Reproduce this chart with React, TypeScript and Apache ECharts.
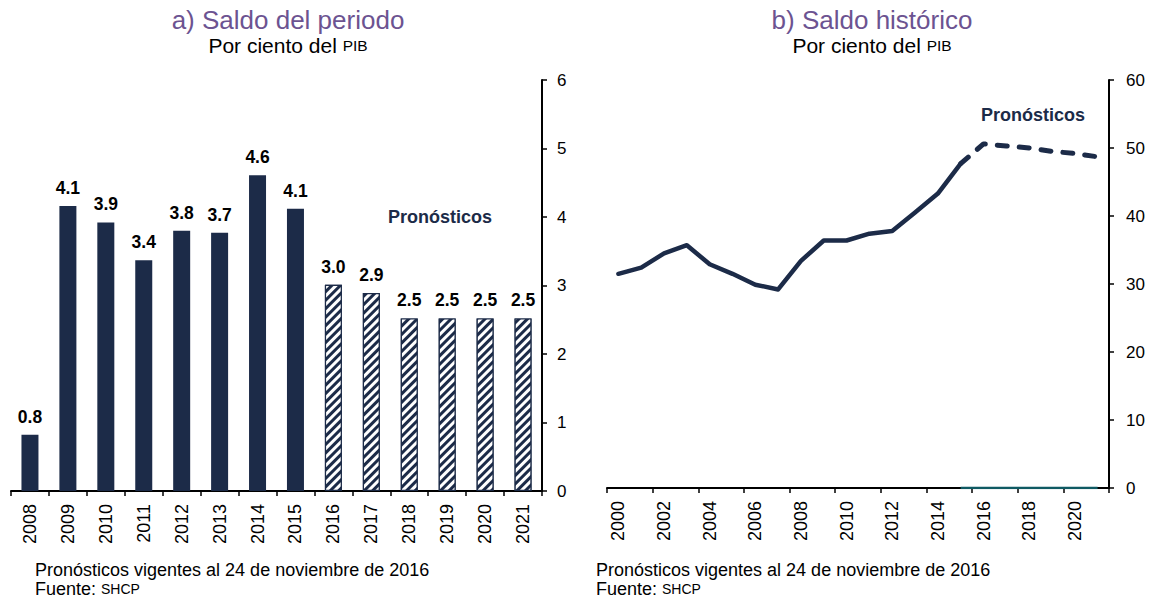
import React, { useEffect, useRef } from 'react';
import * as echarts from 'echarts';

// ---------- Data ----------
const periodYears = ['2008', '2009', '2010', '2011', '2012', '2013', '2014', '2015', '2016', '2017', '2018', '2019', '2020', '2021'];
const periodValues = [0.82, 4.16, 3.92, 3.37, 3.8, 3.77, 4.61, 4.12, 3.01, 2.89, 2.52, 2.52, 2.52, 2.52];
const periodLabels = ['0.8', '4.1', '3.9', '3.4', '3.8', '3.7', '4.6', '4.1', '3.0', '2.9', '2.5', '2.5', '2.5', '2.5'];
const periodForecastFrom = '2016';

const histYears = ['2000', '2001', '2002', '2003', '2004', '2005', '2006', '2007', '2008', '2009', '2010', '2011', '2012', '2013', '2014', '2015', '2016', '2017', '2018', '2019', '2020', '2021'];
const histObserved = [31.5, 32.4, 34.5, 35.7, 32.9, 31.5, 29.9, 29.2, 33.4, 36.4, 36.4, 37.4, 37.8, 40.5, 43.3, 47.7];
const histForecastYears = ['2015', '2016', '2017', '2018', '2019', '2020', '2021'];
const histForecast = [47.7, 50.6, 50.3, 50.0, 49.5, 49.2, 48.7];
const histBaseYears = ['2015', '2016', '2017', '2018', '2019', '2020', '2021'];
const histBase = [0, 0, 0, 0, 0, 0, 0];

const leftTicks = { min: 0, max: 6, interval: 1 };
const rightTicks = { min: 0, max: 60, interval: 10 };

// ---------- Styles ----------
const NAVY = '#1c2b48';
const PURPLE = '#6c5391';
const TEAL = '#0f5a63';
const FONT = "'Liberation Sans', Arial, sans-serif";

function alignTo(years: string[], keys: string[], vals: number[]) {
  return years.map((y) => {
    const i = keys.indexOf(y);
    return i >= 0 ? vals[i] : null;
  });
}

function titleBlock(cx: number, title: string) {
  return [
    {
      type: 'text',
      x: cx,
      y: 20,
      style: { text: title, fill: PURPLE, font: `26px ${FONT}`, textAlign: 'center', textVerticalAlign: 'middle' },
    },
    {
      type: 'text',
      x: cx,
      y: 45,
      style: {
        text: 'Por ciento del {s|PIB}',
        fill: '#000',
        font: `21px ${FONT}`,
        textAlign: 'center',
        textVerticalAlign: 'middle',
        rich: { s: { fontSize: 15.5, fontFamily: FONT, fill: '#000' } },
      },
    },
  ];
}

function footerBlock(x: number) {
  return [
    {
      type: 'text',
      x,
      y: 570,
      style: { text: 'Pronósticos vigentes al 24 de noviembre de 2016', fill: '#000', font: `18px ${FONT}`, textVerticalAlign: 'middle' },
    },
    {
      type: 'text',
      x,
      y: 589,
      style: {
        text: 'Fuente: {s|SHCP}',
        fill: '#000',
        font: `18px ${FONT}`,
        textVerticalAlign: 'middle',
        rich: { s: { fontSize: 14, fontFamily: FONT, fill: '#000' } },
      },
    },
  ];
}

export default function App() {
  const ref = useRef<HTMLDivElement>(null);

  useEffect(() => {
    document.body.style.margin = '0';
    const chart = echarts.init(ref.current as HTMLDivElement, null, { renderer: 'svg' });
    const forecastIdx = periodYears.indexOf(periodForecastFrom);

    const barData = periodValues.map((v, i) =>
      i >= forecastIdx
        ? {
            value: v,
            itemStyle: {
              color: NAVY,
              borderColor: NAVY,
              borderWidth: 1.2,
              decal: {
                symbol: 'rect',
                symbolSize: 1,
                dashArrayX: [[1, 0]],
                dashArrayY: [2.2, 2.4],
                rotation: -Math.PI / 4,
                color: '#ffffff',
              },
            },
          }
        : { value: v, itemStyle: { color: NAVY } }
    );

    const observedData = histYears.map((y, i) => (i < histObserved.length ? histObserved[i] : null));
    const forecastData = alignTo(histYears, histForecastYears, histForecast);
    const baseData = alignTo(histYears, histBaseYears, histBase);

    const axisLabelStyle = { color: '#000', fontSize: 17, fontFamily: FONT };

    const option: any = {
      animation: false,
      textStyle: { fontFamily: FONT },
      graphic: [
        ...titleBlock(288, 'a) Saldo del periodo'),
        ...titleBlock(872, 'b) Saldo histórico'),
        {
          type: 'text',
          x: 440,
          y: 217,
          style: { text: 'Pronósticos', fill: NAVY, font: `bold 18px ${FONT}`, textAlign: 'center', textVerticalAlign: 'middle' },
        },
        {
          type: 'text',
          x: 1033,
          y: 115,
          style: { text: 'Pronósticos', fill: NAVY, font: `bold 18px ${FONT}`, textAlign: 'center', textVerticalAlign: 'middle' },
        },
        ...footerBlock(35),
        ...footerBlock(596),
      ],
      grid: [
        { left: 11, top: 80, width: 531, height: 411 },
        { left: 607, top: 80, width: 502, height: 408 },
      ],
      xAxis: [
        {
          gridIndex: 0,
          type: 'category',
          data: periodYears,
          axisLine: { lineStyle: { color: '#000', width: 2 } },
          axisTick: { show: true, length: 5, lineStyle: { color: '#000', width: 1.5 } },
          axisLabel: { ...axisLabelStyle, fontSize: 18, rotate: 90, margin: 13 },
        },
        {
          gridIndex: 1,
          type: 'category',
          data: histYears,
          axisLine: { lineStyle: { color: '#000', width: 2 } },
          axisTick: { show: true, interval: 1, length: 5, lineStyle: { color: '#000', width: 1.5 } },
          axisLabel: { ...axisLabelStyle, fontSize: 18, rotate: 90, interval: 1, margin: 13 },
        },
      ],
      yAxis: [
        {
          gridIndex: 0,
          type: 'value',
          position: 'right',
          ...leftTicks,
          splitLine: { show: false },
          axisLine: { show: true, lineStyle: { color: '#000', width: 2 } },
          axisTick: { show: true, length: 5, lineStyle: { color: '#000', width: 1.5 } },
          axisLabel: { ...axisLabelStyle, margin: 15 },
        },
        {
          gridIndex: 1,
          type: 'value',
          position: 'right',
          ...rightTicks,
          splitLine: { show: false },
          axisLine: { show: true, lineStyle: { color: '#000', width: 2 } },
          axisTick: { show: true, length: 5, lineStyle: { color: '#000', width: 1.5 } },
          axisLabel: { ...axisLabelStyle, margin: 17 },
        },
      ],
      series: [
        {
          type: 'bar',
          xAxisIndex: 0,
          yAxisIndex: 0,
          barWidth: 17,
          data: barData,
          label: {
            show: true,
            position: 'top',
            distance: 9,
            color: '#000',
            fontWeight: 'bold',
            fontSize: 17.5,
            fontFamily: FONT,
            formatter: (p: any) => periodLabels[p.dataIndex],
          },
        },
        {
          type: 'line',
          xAxisIndex: 1,
          yAxisIndex: 1,
          data: baseData,
          symbol: 'none',
          lineStyle: { color: TEAL, width: 2.5 },
          z: 5,
        },
        {
          type: 'line',
          xAxisIndex: 1,
          yAxisIndex: 1,
          data: observedData,
          symbol: 'none',
          lineStyle: { color: NAVY, width: 4.5, cap: 'round', join: 'round' },
          z: 4,
        },
        {
          type: 'line',
          xAxisIndex: 1,
          yAxisIndex: 1,
          data: forecastData,
          symbol: 'none',
          lineStyle: { color: NAVY, width: 5, type: [10, 12], cap: 'round', join: 'round' },
          z: 4,
        },
      ],
    };

    chart.setOption(option);
    return () => chart.dispose();
  }, []);

  return <div ref={ref} style={{ width: 1156, height: 600 }} />;
}
